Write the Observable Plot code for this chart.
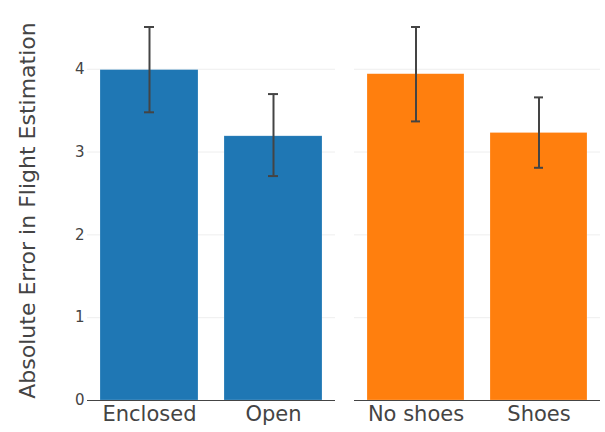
<!DOCTYPE html>
<html>
<head>
<meta charset="utf-8">
<script src="https://cdn.jsdelivr.net/npm/d3@7"></script>
<script src="https://cdn.jsdelivr.net/npm/@observablehq/plot@0.6"></script>
<style>
  body { margin: 0; background: #fff; }
  #wrap { display: flex; flex-direction: row; width: 605px; height: 432px; font-family: "DejaVu Sans", sans-serif; }
</style>
</head>
<body>
<div id="wrap"></div>
<script>
const yLabel = "Absolute Error in Flight Estimation";
const yTicks = [0, 1, 2, 3, 4];

const catsA = ["Enclosed", "Open"];
const meanA = [3.99, 3.19];
const lowA = [3.48, 2.71];
const highA = [4.51, 3.70];

const catsB = ["No shoes", "Shoes"];
const meanB = [3.94, 3.23];
const lowB = [3.37, 2.81];
const highB = [4.51, 3.66];

const colors = ["#1f77b4", "#ff7f0e"];
const textColor = "#444";

function rows(cats, mean, low, high) {
  return cats.map((c, i) => ({cat: c, mean: mean[i], low: low[i], high: high[i]}));
}

function panel(data, color, opts) {
  const marks = [
    Plot.gridY(yTicks, {stroke: "#eee", strokeOpacity: 1}),
    Plot.barY(data, {x: "cat", y: "mean", fill: color, stroke: "#fff", strokeOpacity: 0.4, strokeWidth: 0.5}),
    Plot.ruleX(data, {x: "cat", y1: "low", y2: "high", stroke: "#444", strokeWidth: 2}),
    Plot.tickY(data, {x: "cat", y: "low", stroke: "#444", strokeWidth: 2, insetLeft: 44, insetRight: 44}),
    Plot.tickY(data, {x: "cat", y: "high", stroke: "#444", strokeWidth: 2, insetLeft: 44, insetRight: 44}),
    Plot.axisX({tickSize: 0, tickPadding: 6, fontSize: 21, color: textColor, label: null}),
    Plot.ruleY([0], {stroke: "#444", strokeWidth: 1})
  ];
  if (opts.yAxis) {
    marks.push(Plot.axisY(yTicks, {tickSize: 0, tickPadding: 3, fontSize: 15, color: textColor, label: null, tickFormat: d => String(d)}));
    marks.push(Plot.text([yLabel], {frameAnchor: "left", rotate: -90, dx: -60, dy: 10, fontSize: 22, fill: textColor, textAnchor: "middle"}));
  } else {
    marks.push(Plot.axisY({ticks: [], label: null, tickSize: 0}));
  }
  return Plot.plot({
    width: opts.width,
    height: 432,
    marginLeft: opts.marginLeft,
    marginRight: opts.marginRight,
    marginTop: 0,
    marginBottom: 32,
    style: {fontFamily: "'DejaVu Sans', sans-serif", background: "#fff", overflow: "visible"},
    x: {domain: data.map(d => d.cat), paddingInner: 0.21, paddingOuter: 0.105, label: null},
    y: {domain: [0, 4.83], label: null},
    marks
  });
}

const wrap = document.getElementById("wrap");
wrap.appendChild(panel(rows(catsA, meanA, lowA, highA), colors[0], {width: 340, marginLeft: 87, marginRight: 5, yAxis: true}));
wrap.appendChild(panel(rows(catsB, meanB, lowB, highB), colors[1], {width: 265, marginLeft: 14, marginRight: 5, yAxis: false}));
</script>
</body>
</html>
